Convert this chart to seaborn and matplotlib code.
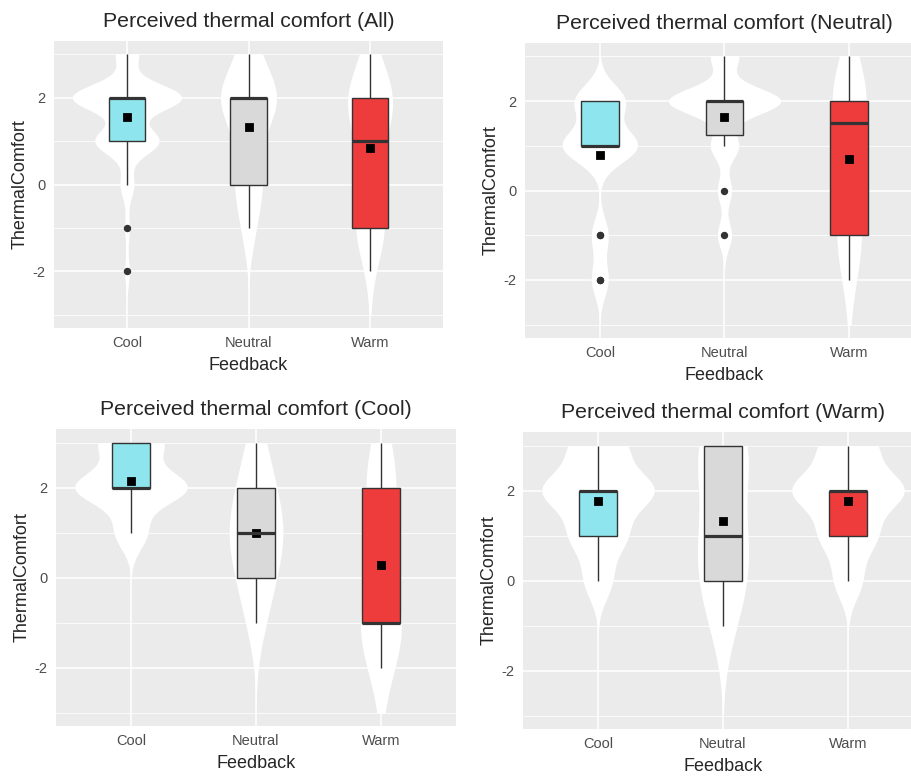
import numpy as np
import pandas as pd
import matplotlib
matplotlib.use("Agg")
import matplotlib.pyplot as plt
from matplotlib.patches import Rectangle
import seaborn as sns

# valores de la escala de confort y categorias de feedback
niveles = [-3, -2, -1, 0, 1, 2, 3]
feedback = ["Cool", "Neutral", "Warm"]

# conteos de respuestas por nivel (-3..3) para cada grupo
all_cool = [0, 1, 1, 3, 14, 24, 5]
all_neutral = [0, 0, 2, 4, 3, 9, 3]
all_warm = [0, 1, 6, 2, 4, 9, 2]

neutral_cool = [0, 2, 2, 0, 9, 6, 0]
neutral_neutral = [0, 0, 1, 1, 2, 8, 2]
neutral_warm = [0, 1, 4, 1, 1, 6, 1]

cool_cool = [0, 0, 0, 0, 2, 7, 4]
cool_neutral = [0, 0, 1, 2, 3, 2, 1]
cool_warm = [0, 1, 5, 0, 1, 3, 1]

warm_cool = [0, 0, 0, 1, 2, 4, 2]
warm_neutral = [0, 0, 1, 2, 2, 1, 3]
warm_warm = [0, 0, 0, 1, 2, 4, 2]

titulos = ["All", "Neutral", "Cool", "Warm"]
paneles = [
    [all_cool, all_neutral, all_warm],
    [neutral_cool, neutral_neutral, neutral_warm],
    [cool_cool, cool_neutral, cool_warm],
    [warm_cool, warm_neutral, warm_warm],
]

colores = {"Cool": "#8EE5EE", "Neutral": "#D9D9D9", "Warm": "#EE3B3B"}


def armar_df(conteos):
    filas = []
    for cat, cnt in zip(feedback, conteos):
        for v, c in zip(niveles, cnt):
            filas += [{"Feedback": cat, "ThermalComfort": v}] * c
    return pd.DataFrame(filas)


def nrd0(kde):
    # ancho de banda tipo R (bw.nrd0) expresado como factor para gaussian_kde
    x = kde.dataset[0]
    sd = x.std(ddof=1)
    q75, q25 = np.percentile(x, [75, 25])
    lo = min(sd, (q75 - q25) / 1.34)
    h = 0.9 * lo * len(x) ** -0.2
    return h / sd


def dibujar_panel(ax, df, titulo):
    ax.set_facecolor("#EBEBEB")
    n_antes = len(ax.collections)
    sns.violinplot(data=df, x="Feedback", y="ThermalComfort", order=feedback,
                   color="white", inner=None, linewidth=0, cut=3, gridsize=512,
                   bw_method=nrd0, width=0.9, density_norm="area",
                   saturation=1, ax=ax)
    # recortar violines en los limites de la escala (-3, 3)
    for coll in ax.collections[n_antes:]:
        coll.set_clip_path(Rectangle((-1, -3), 4, 6, transform=ax.transData))

    sns.boxplot(data=df, x="Feedback", y="ThermalComfort", hue="Feedback",
                order=feedback, hue_order=feedback, palette=colores, legend=False,
                width=0.3, saturation=1, linecolor="#333333", linewidth=1,
                fliersize=4.3, showcaps=False,
                flierprops=dict(marker="o", markerfacecolor="#333333",
                                markeredgecolor="#333333"),
                medianprops=dict(linewidth=2.3), ax=ax)

    sns.pointplot(data=df, x="Feedback", y="ThermalComfort", order=feedback,
                  estimator="mean", errorbar=None, color="black", markers="s",
                  linestyle="none", markersize=5, ax=ax)

    ax.set_xlim(-0.6, 2.6)
    ax.set_ylim(-3.3, 3.3)
    ax.set_yticks([-2, 0, 2])
    ax.set_yticks([-3, -1, 1, 3], minor=True)
    ax.set_axisbelow(True)
    ax.grid(which="major", color="white", linewidth=1.1)
    ax.grid(which="minor", color="white", linewidth=0.55)
    for s in ax.spines.values():
        s.set_visible(False)
    ax.tick_params(which="major", length=3, width=1, color="#333333",
                   labelcolor="#4D4D4D", labelsize=10.5, pad=3)
    ax.tick_params(which="minor", length=0)
    ax.set_xlabel("Feedback", fontsize=13, labelpad=5)
    ax.set_ylabel("ThermalComfort", fontsize=13, labelpad=3)
    ax.set_title(f"Perceived thermal comfort ({titulo})", fontsize=15.3, pad=10)


sns.set_style("white")
plt.rcParams["font.family"] = ["Liberation Sans", "DejaVu Sans"]
plt.rcParams["axes.unicode_minus"] = False

fig = plt.figure(figsize=(9.12, 7.76), dpi=100)
W, H = 912, 776
# posiciones de cada panel en pixeles (x0, y0, x1, y1)
cajas = [(54, 41, 443, 328), (525, 43, 924, 338),
         (56, 429, 456, 726), (523, 432, 923, 729)]

for (x0, y0, x1, y1), titulo, conteos in zip(cajas, titulos, paneles):
    ax = fig.add_axes([x0 / W, 1 - y1 / H, (x1 - x0) / W, (y1 - y0) / H])
    dibujar_panel(ax, armar_df(conteos), titulo)

fig.savefig("out.png", dpi=100)
